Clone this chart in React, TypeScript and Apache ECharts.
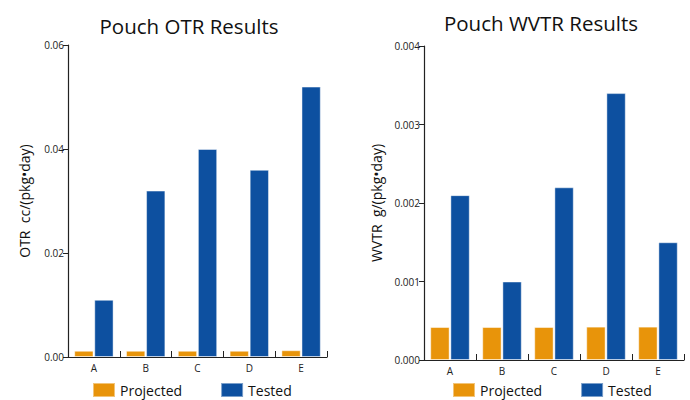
import React, { useEffect, useRef } from "react";
import * as echarts from "echarts";

const categories = ["A", "B", "C", "D", "E"];
const otrProjected = [0.0012, 0.0012, 0.0012, 0.0012, 0.0013];
const otrTested = [0.011, 0.032, 0.040, 0.036, 0.052];
const wvtrProjected = [0.00042, 0.00042, 0.00042, 0.000425, 0.000425];
const wvtrTested = [0.0021, 0.001, 0.0022, 0.0034, 0.0015];
const otrTicks = { min: 0, max: 0.06, interval: 0.02 };
const wvtrTicks = { min: 0, max: 0.004, interval: 0.001 };

const ORANGE = "#E8940A";
const BLUE = "#0D50A0";
const FONT = "'Open Sans', 'Noto Sans', sans-serif";

export default function App() {
  const ref = useRef<HTMLDivElement>(null);
  useEffect(() => {
    const chart = echarts.init(ref.current!, undefined, { renderer: "svg" });
    const axisLine = { show: true, lineStyle: { color: "#222", width: 1.2 } };
    const xAxisCommon = {
      type: "category" as const,
      data: categories,
      axisLine,
      axisTick: { show: true, inside: true, length: 6, lineStyle: { color: "#222" } },
      axisLabel: { color: "#222", fontSize: 10, fontFamily: FONT, margin: 6 },
    };
    const yAxisCommon = {
      type: "value" as const,
      axisLine,
      axisTick: { show: true, length: 5, lineStyle: { color: "#222" } },
      splitLine: { show: false },
      nameLocation: "middle" as const,
      nameTextStyle: { color: "#111", fontSize: 14, fontFamily: FONT },
    };
    const barStyle = (c: string) => ({
      color: c,
      borderColor: "rgba(255,255,255,0.45)",
      borderWidth: 1,
    });
    const legendCommon = {
      top: 377,
      itemWidth: 22,
      itemHeight: 14,
      itemGap: 38,
      data: ["Projected", "Tested"],
      textStyle: { fontSize: 14, color: "#111", fontFamily: FONT },
      icon: "rect",
    };
    chart.setOption({
      animation: false,
      textStyle: { fontFamily: FONT },
      title: [
        {
          text: "Pouch OTR Results",
          left: 184,
          top: 10,
          textAlign: "center",
          textStyle: { fontSize: 20.5, fontWeight: "normal", color: "#111", fontFamily: FONT },
        },
        {
          text: "Pouch WVTR Results",
          left: 536,
          top: 7,
          textAlign: "center",
          textStyle: { fontSize: 20.5, fontWeight: "normal", color: "#111", fontFamily: FONT },
        },
      ],
      legend: [
        { ...legendCommon, left: 87 },
        { ...legendCommon, left: 447 },
      ],
      grid: [
        { left: 68, right: 363, top: 45, bottom: 43 },
        { left: 424, right: 6, top: 46, bottom: 40 },
      ],
      xAxis: [
        { ...xAxisCommon, gridIndex: 0 },
        { ...xAxisCommon, gridIndex: 1 },
      ],
      yAxis: [
        {
          ...yAxisCommon,
          gridIndex: 0,
          ...otrTicks,
          name: "OTR  cc/(pkg•day)",
          nameGap: 37,
          axisLabel: {
            color: "#222",
            fontSize: 10,
            fontFamily: FONT,
            margin: 4,
            formatter: (v: number) => v.toFixed(2),
          },
        },
        {
          ...yAxisCommon,
          gridIndex: 1,
          ...wvtrTicks,
          name: "WVTR  g/(pkg•day)",
          nameGap: 41,
          axisLabel: {
            color: "#222",
            fontSize: 10,
            fontFamily: FONT,
            margin: 4,
            formatter: (v: number) => v.toFixed(3),
          },
        },
      ],
      series: [
        {
          name: "Projected",
          type: "bar",
          xAxisIndex: 0,
          yAxisIndex: 0,
          data: otrProjected,
          itemStyle: barStyle(ORANGE),
          barCategoryGap: "24%",
          barGap: "4%",
        },
        {
          name: "Tested",
          type: "bar",
          xAxisIndex: 0,
          yAxisIndex: 0,
          data: otrTested,
          itemStyle: barStyle(BLUE),
          barCategoryGap: "24%",
          barGap: "4%",
        },
        {
          name: "Projected",
          type: "bar",
          xAxisIndex: 1,
          yAxisIndex: 1,
          data: wvtrProjected,
          itemStyle: barStyle(ORANGE),
          barCategoryGap: "24%",
          barGap: "4%",
        },
        {
          name: "Tested",
          type: "bar",
          xAxisIndex: 1,
          yAxisIndex: 1,
          data: wvtrTested,
          itemStyle: barStyle(BLUE),
          barCategoryGap: "24%",
          barGap: "4%",
        },
      ],
    });
    return () => chart.dispose();
  }, []);
  return <div ref={ref} style={{ width: 690, height: 400, position: "absolute", left: 0, top: 0 }} />;
}
